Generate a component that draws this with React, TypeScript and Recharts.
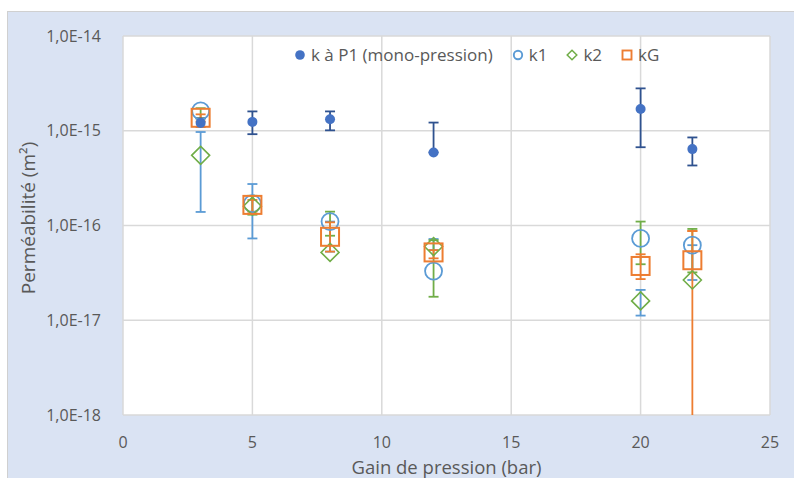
import React from 'react';
import { ScatterChart, Scatter, XAxis, YAxis, CartesianGrid, ErrorBar, Label } from 'recharts';

// ---- data ----
const pressures = [3, 5, 8, 12, 20, 22];
const kP1 = [1.21e-15, 1.24e-15, 1.32e-15, 5.9e-16, 1.7e-15, 6.4e-16];
const k1 = [1.62e-15, 1.7e-16, 1.1e-16, 3.3e-17, 7.3e-17, 6.2e-17];
const k2 = [5.5e-16, 1.6e-16, 5.2e-17, 6.0e-17, 1.6e-17, 2.66e-17];
const kG = [1.37e-15, 1.65e-16, 7.6e-17, 5.2e-17, 3.74e-17, 4.3e-17];

// error bar extents (low / high), per pressure, per bar colour
const barP1Low = [1.1e-15, 9.2e-16, 1.01e-15, 5.9e-16, 6.7e-16, 4.3e-16];
const barP1High = [1.35e-15, 1.6e-15, 1.6e-15, 1.22e-15, 2.8e-15, 8.5e-16];
const barBlueLow = [1.39e-16, 7.3e-17, 5.3e-17, 5.5e-17, 1.12e-17, 2.66e-17];
const barBlueHigh = [9.7e-16, 2.74e-16, 1.1e-16, 7.2e-17, 2.09e-17, 6.2e-17];
const barGreenLow = [1.35e-15, 1.3e-16, 7.8e-17, 1.77e-17, 3.9e-17, 3.2e-17];
const barGreenHigh = [1.73e-15, 2.06e-16, 1.4e-16, 7.0e-17, 1.1e-16, 9.2e-17];
const barOrangeLow = [1.25e-15, 1.4e-16, 5.3e-17, 4.5e-17, 2.72e-17, 8.75e-17];
const barOrangeHigh = [1.49e-15, 1.86e-16, 1.08e-16, 5.5e-17, 4.97e-17, 8.75e-17];
// kG at 22 bar: lower error runs below the axis (no lower cap)
const tailX = [22];
const tailOrangeLow = [1e-18];
const tailOrangeHigh = [8.75e-17];

const seriesNames = ['k à P1 (mono-pression)', 'k1', 'k2', 'kG'];
const xTicks = [0, 5, 10, 15, 20, 25];
const yTicks = [1e-18, 1e-17, 1e-16, 1e-15, 1e-14];
const xTitle = 'Gain de pression (bar)';
const yTitle = 'Perméabilité (m²)';

// ---- styles ----
const C_DARK = '#4472C4';
const C_DARK_BAR = '#2F528F';
const C_BLUE = '#5B9BD5';
const C_GREEN = '#70AD47';
const C_ORANGE = '#ED7D31';
const TXT = '#595959';
const FONT = '"Open Sans", sans-serif';

const toPoints = (vals: number[]) => pressures.map((x, i) => ({ x, y: vals[i] }));
const toBars = (xs: number[], low: number[], high: number[]) =>
  xs.map((x, i) => ({ x, y: high[i], err: [high[i] - low[i], 0] }));

const fmtY = (v: number) => '1,0E' + Math.round(Math.log10(v));

const Dot = (p: any) => <circle cx={p.cx} cy={p.cy} r={5} fill={C_DARK} />;
const OpenCircle = (p: any) => (
  <circle cx={p.cx} cy={p.cy} r={8.5} fill="none" stroke={C_BLUE} strokeWidth={1.8} />
);
const OpenDiamond = (p: any) => (
  <path
    d={`M${p.cx},${p.cy - 9} L${p.cx + 9},${p.cy} L${p.cx},${p.cy + 9} L${p.cx - 9},${p.cy} Z`}
    fill="none"
    stroke={C_GREEN}
    strokeWidth={1.6}
  />
);
const OpenSquare = (p: any) => (
  <rect x={p.cx - 9} y={p.cy - 9} width={18} height={18} fill="none" stroke={C_ORANGE} strokeWidth={2} />
);
const NoShape = () => <g />;

const LegendIcon = ({ i }: { i: number }) => (
  <svg width={12} height={12} style={{ marginRight: 5 }}>
    {i === 0 && <circle cx={6} cy={6} r={4.8} fill={C_DARK} />}
    {i === 1 && <circle cx={6} cy={6} r={4.2} fill="none" stroke={C_BLUE} strokeWidth={1.9} />}
    {i === 2 && <path d="M6,1.2 L10.8,6 L6,10.8 L1.2,6 Z" fill="none" stroke={C_GREEN} strokeWidth={1.5} />}
    {i === 3 && <rect x={1.5} y={1.5} width={9} height={9} fill="none" stroke={C_ORANGE} strokeWidth={1.9} />}
  </svg>
);

export default function App() {
  return (
    <div style={{ position: 'absolute', left: 0, top: 0, width: 794, height: 478, overflow: 'hidden', background: '#fff' }}>
      <div
        style={{
          position: 'absolute',
          left: 7,
          top: 11,
          width: 790,
          height: 480,
          background: '#DAE3F3',
          border: '1px solid #D0D0D0',
          boxSizing: 'border-box',
        }}
      />
      <div style={{ position: 'absolute', left: 0, top: 0 }}>
        <ScatterChart width={794} height={478} margin={{ top: 36, right: 24, left: 0, bottom: 3 }}>
          <CartesianGrid fill="#FFFFFF" stroke="#D9D9D9" strokeWidth={1.5} />
          <XAxis
            type="number"
            dataKey="x"
            domain={[0, 25]}
            ticks={xTicks}
            height={60}
            axisLine={false}
            tickLine={false}
            tickMargin={16}
            tick={{ fill: TXT, fontSize: 16, fontFamily: FONT }}
          >
            <Label value={xTitle} position="insideBottom" offset={1} fill={TXT} fontSize={18.5} fontFamily={FONT} />
          </XAxis>
          <YAxis
            type="number"
            dataKey="y"
            scale="log"
            domain={[1e-18, 1e-14]}
            allowDataOverflow
            ticks={yTicks}
            width={123}
            axisLine={false}
            tickLine={false}
            tickMargin={16}
            tickFormatter={fmtY}
            tick={{ fill: TXT, fontSize: 16, fontFamily: FONT }}
          >
            <Label
              content={() => (
                <text
                  transform="translate(28,218) rotate(-90)"
                  textAnchor="middle"
                  dominantBaseline="central"
                  fill={TXT}
                  fontSize={19}
                  fontFamily={FONT}
                >
                  {yTitle}
                </text>
              )}
            />
          </YAxis>

          <Scatter name={seriesNames[1]} data={toPoints(k1)} shape={OpenCircle} isAnimationActive={false} />
          <Scatter name={seriesNames[2]} data={toPoints(k2)} shape={OpenDiamond} isAnimationActive={false} />
          <Scatter name={seriesNames[3]} data={toPoints(kG)} shape={OpenSquare} isAnimationActive={false} />

          <Scatter data={toBars(pressures, barBlueLow, barBlueHigh)} shape={NoShape} legendType="none" isAnimationActive={false}>
            <ErrorBar dataKey="err" direction="y" width={5} stroke={C_BLUE} strokeWidth={1.8} isAnimationActive={false} />
          </Scatter>
          <Scatter data={toBars(pressures, barGreenLow, barGreenHigh)} shape={NoShape} legendType="none" isAnimationActive={false}>
            <ErrorBar dataKey="err" direction="y" width={5} stroke={C_GREEN} strokeWidth={1.8} isAnimationActive={false} />
          </Scatter>
          <Scatter data={toBars(pressures, barOrangeLow, barOrangeHigh)} shape={NoShape} legendType="none" isAnimationActive={false}>
            <ErrorBar dataKey="err" direction="y" width={5} stroke={C_ORANGE} strokeWidth={1.8} isAnimationActive={false} />
          </Scatter>
          <Scatter data={toBars(tailX, tailOrangeLow, tailOrangeHigh)} shape={NoShape} legendType="none" isAnimationActive={false}>
            <ErrorBar dataKey="err" direction="y" width={0} stroke={C_ORANGE} strokeWidth={1.8} isAnimationActive={false} />
          </Scatter>
          <Scatter data={toBars(pressures, barP1Low, barP1High)} shape={NoShape} legendType="none" isAnimationActive={false}>
            <ErrorBar dataKey="err" direction="y" width={5} stroke={C_DARK_BAR} strokeWidth={1.8} isAnimationActive={false} />
          </Scatter>

          <Scatter name={seriesNames[0]} data={toPoints(kP1)} shape={Dot} isAnimationActive={false} />
        </ScatterChart>
      </div>
      <div
        style={{
          position: 'absolute',
          left: 294,
          top: 43,
          display: 'flex',
          alignItems: 'center',
          fontFamily: FONT,
          fontSize: 17,
          color: TXT,
          whiteSpace: 'nowrap',
        }}
      >
        {seriesNames.map((n, i) => (
          <div key={n} style={{ display: 'flex', alignItems: 'center', marginRight: 19 }}>
            <LegendIcon i={i} />
            <span>{n}</span>
          </div>
        ))}
      </div>
    </div>
  );
}
